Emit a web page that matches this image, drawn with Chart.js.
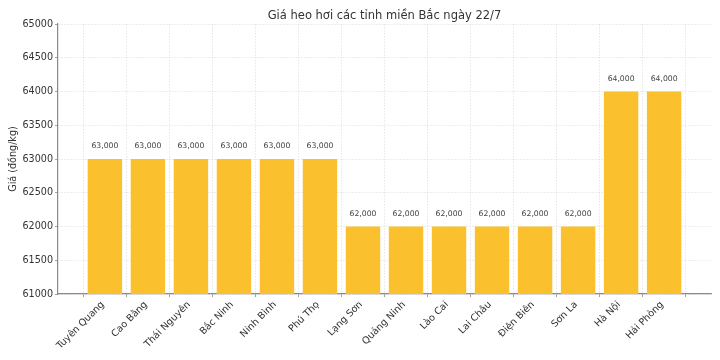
<!DOCTYPE html>
<html>
<head>
<meta charset="utf-8">
<script src="https://cdn.jsdelivr.net/npm/chart.js@4.4.1/dist/chart.umd.min.js"></script>
<style>
html,body{margin:0;padding:0;background:#fff;}
canvas{display:block;}
</style>
</head>
<body>
<canvas id="c" width="720" height="360"></canvas>
<script>
const chartTitle = "Giá heo hơi các tỉnh miền Bắc ngày 22/7";
const yAxisTitle = "Giá (đồng/kg)";
const provinces = ["Tuyên Quang","Cao Bằng","Thái Nguyên","Bắc Ninh","Ninh Bình","Phú Thọ","Lạng Sơn","Quảng Ninh","Lào Cai","Lai Châu","Điện Biên","Sơn La","Hà Nội","Hải Phòng"];
const prices = [63000,63000,63000,63000,63000,63000,62000,62000,62000,62000,62000,62000,64000,64000];
const yMin = 61000, yMax = 65000, yStep = 500;

const FONT = '"DejaVu Sans", sans-serif';
const TEXT = '#333333';
const GRID = 'rgba(195,195,195,0.5)';
const AXIS = '#8a8a8a';

const labelPlugin = {
  id: 'labelsAndTitle',
  afterDatasetsDraw(chart) {
    const ctx = chart.ctx;
    const meta = chart.getDatasetMeta(0);
    ctx.save();
    ctx.font = '7.7px ' + FONT;
    ctx.fillStyle = '#444444';
    ctx.textAlign = 'center';
    ctx.textBaseline = 'alphabetic';
    meta.data.forEach((bar, i) => {
      ctx.fillText(prices[i].toLocaleString('en-US'), bar.x, bar.y - 11);
    });
    ctx.restore();
  },
  afterDraw(chart) {
    const ctx = chart.ctx;
    const a = chart.chartArea;
    ctx.save();
    ctx.font = '11.5px ' + FONT;
    ctx.fillStyle = TEXT;
    ctx.textAlign = 'center';
    ctx.textBaseline = 'alphabetic';
    ctx.fillText(chartTitle, (a.left + a.right) / 2, 19);
    ctx.restore();
  }
};

const n = provinces.length;
const margin = 0.05 * (n - 1 + 0.8);

new Chart(document.getElementById('c'), {
  type: 'bar',
  data: {
    datasets: [{
      data: prices.map((v, i) => ({x: i, y: v})),
      backgroundColor: '#FBC02D',
      borderWidth: 0,
      categoryPercentage: 1,
      barPercentage: 0.8
    }]
  },
  options: {
    responsive: false,
    animation: false,
    devicePixelRatio: 1,
    layout: {padding: {top: 24, right: 9, left: 0, bottom: 0}},
    plugins: {legend: {display: false}, tooltip: {enabled: false}, title: {display: false}},
    scales: {
      x: {
        type: 'linear',
        z: 1,
        offset: false,
        min: -0.4 - margin,
        max: n - 1 + 0.4 + margin,
        afterBuildTicks: s => { s.ticks = provinces.map((_, i) => ({value: i})); },
        afterFit: s => { s.height = 66; },
        grid: {color: GRID, lineWidth: 0.8, tickLength: 3, tickColor: AXIS, tickWidth: 0.8, tickBorderDash: []},
        border: {display: true, color: AXIS, width: 1.2, dash: [1.5, 1.5]},
        ticks: {
          autoSkip: false,
          minRotation: 45, maxRotation: 45,
          padding: 2,
          labelOffset: -2,
          color: TEXT,
          font: {family: FONT, size: 9.6},
          callback: v => provinces[v] !== undefined ? provinces[v] : ''
        }
      },
      y: {
        z: 1,
        min: yMin, max: yMax,
        afterFit: s => { s.width = 58; },
        grid: {color: GRID, lineWidth: 0.8, tickLength: 3, tickColor: AXIS, tickWidth: 0.8, tickBorderDash: []},
        border: {display: true, color: AXIS, width: 1.2, dash: [1.5, 1.5]},
        ticks: {
          stepSize: yStep,
          padding: 2,
          color: TEXT,
          font: {family: FONT, size: 9.6},
          callback: v => String(v)
        },
        title: {display: true, text: yAxisTitle, color: TEXT, font: {family: FONT, size: 9.6}, padding: {top: 8, bottom: 0}}
      }
    }
  },
  plugins: [labelPlugin]
});
</script>
</body>
</html>
